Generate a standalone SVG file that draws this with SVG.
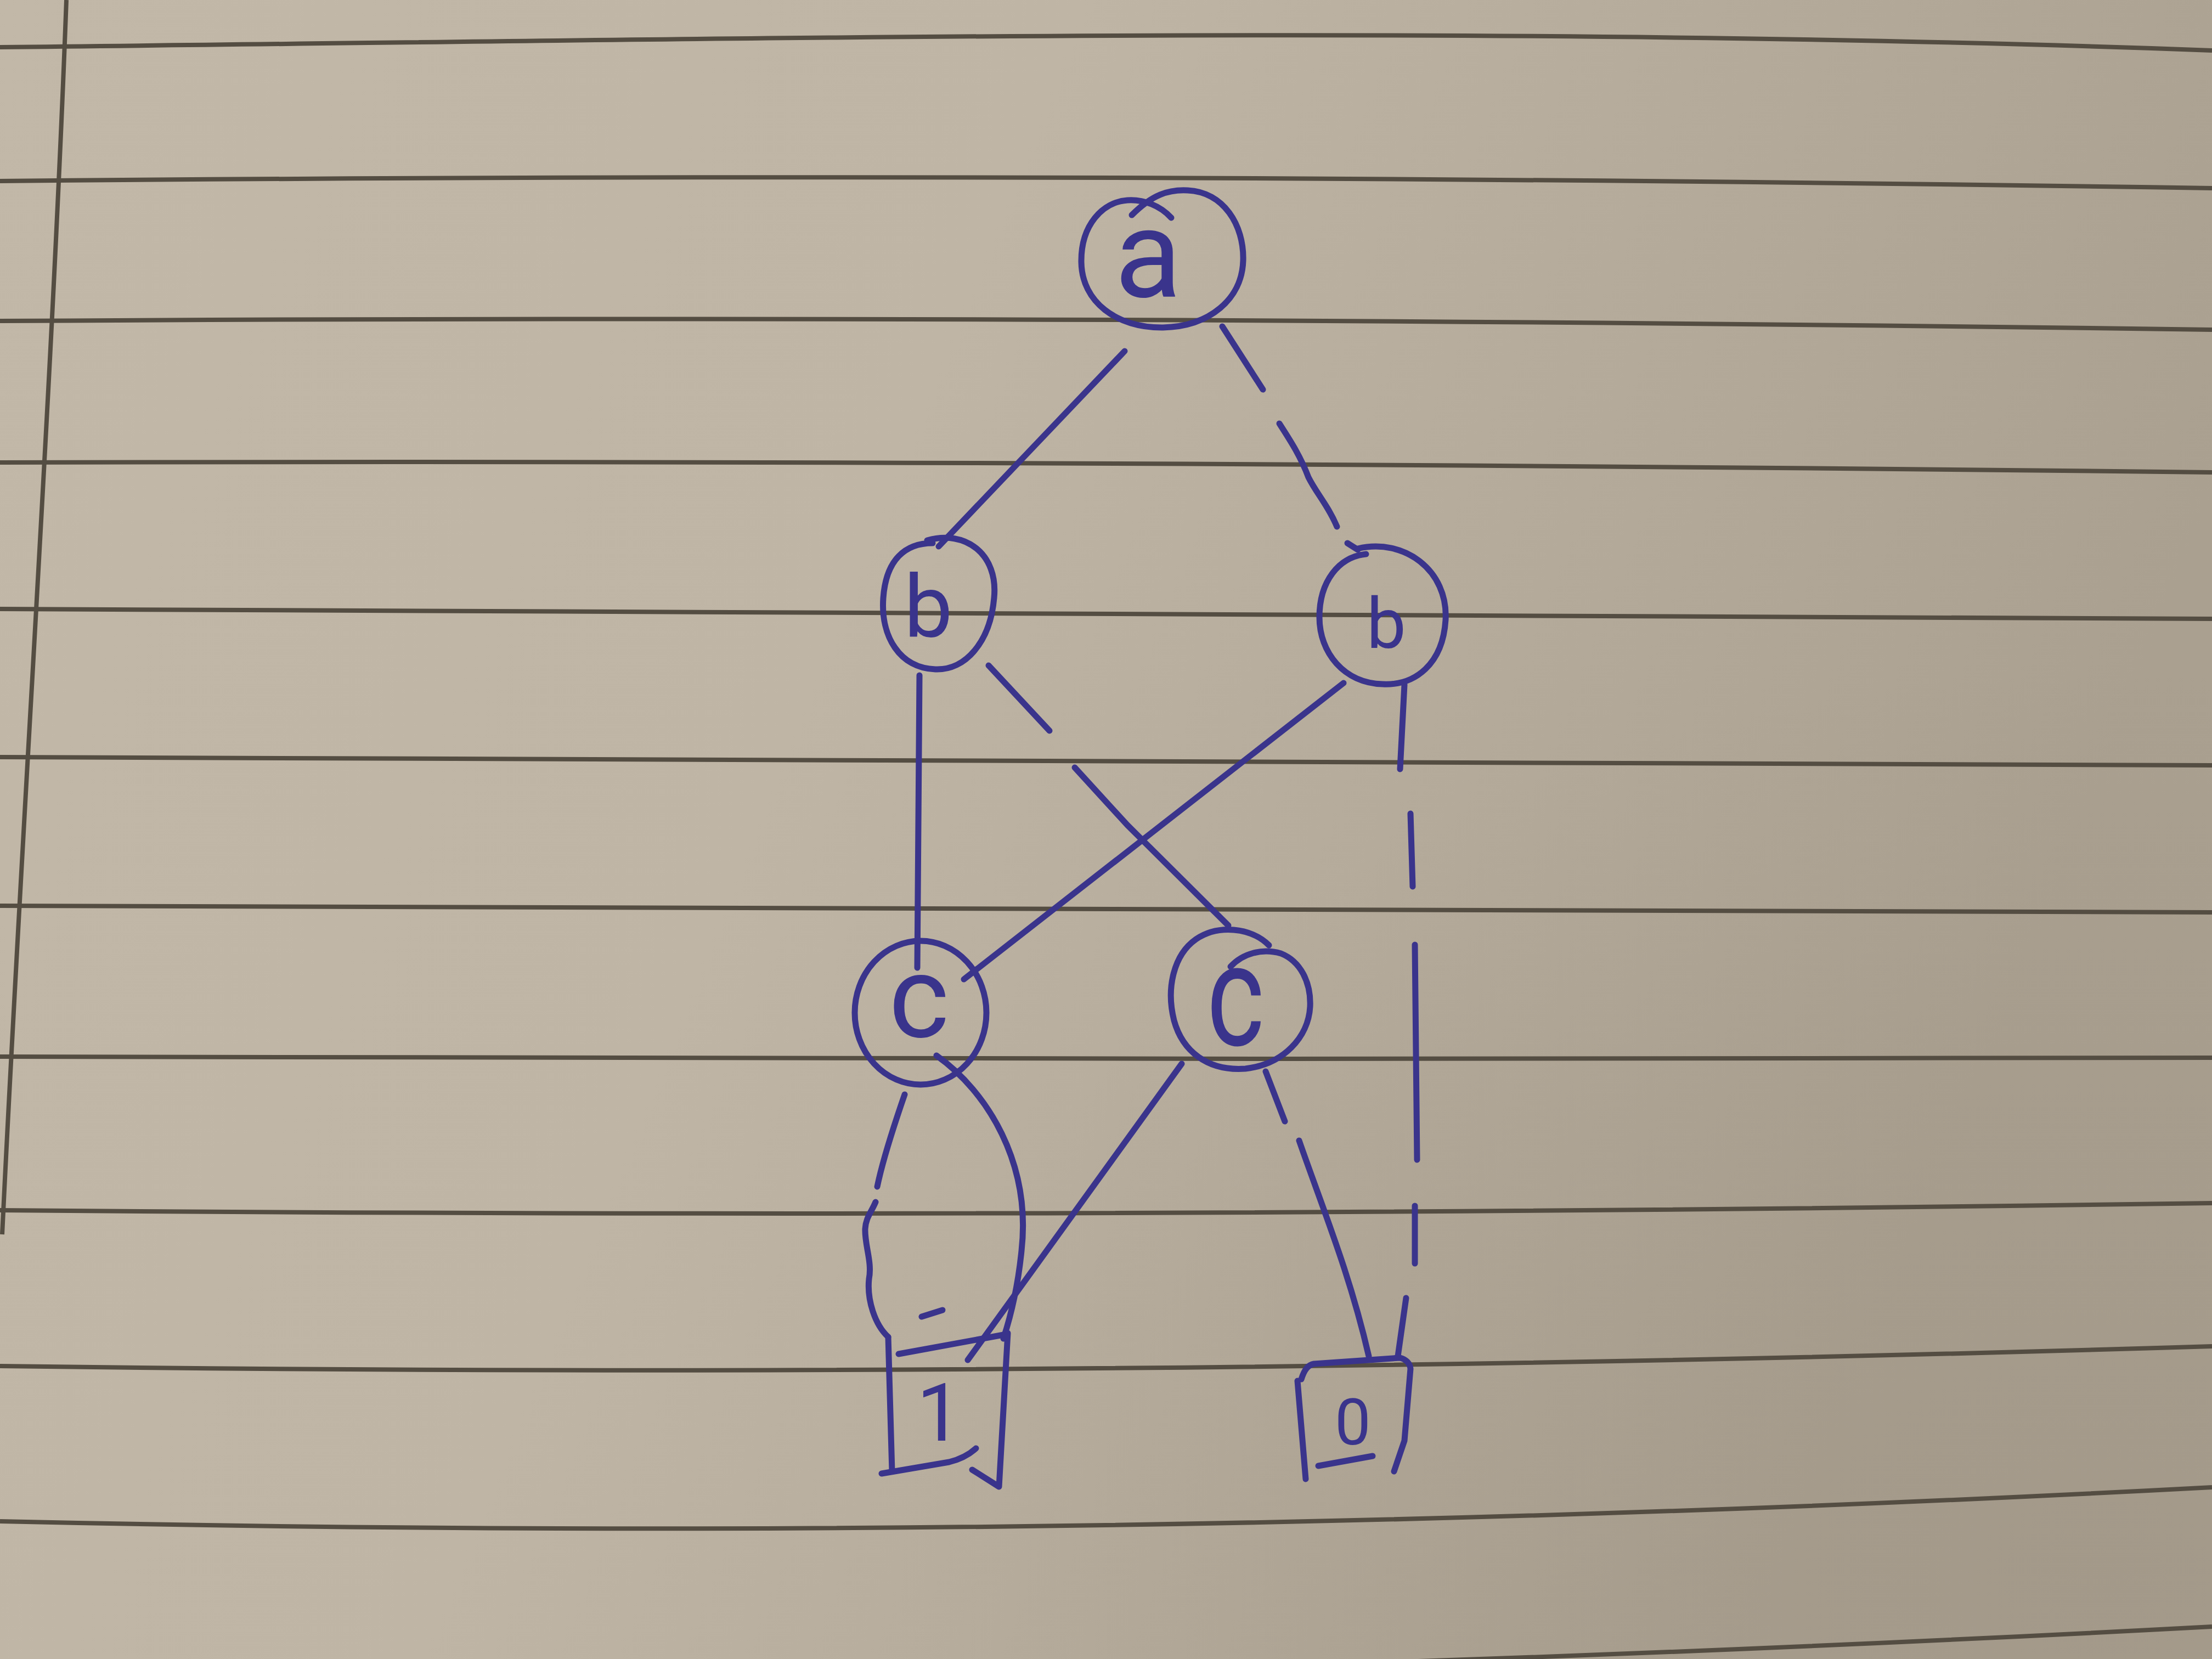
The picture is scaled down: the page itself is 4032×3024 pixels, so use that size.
<svg xmlns="http://www.w3.org/2000/svg" width="4032" height="3024" viewBox="0 0 4032 3024">
  <defs>
    <linearGradient id="paper" x1="0" y1="0" x2="1" y2="0.3">
      <stop offset="0" stop-color="#c2b8a8"/>
      <stop offset="0.45" stop-color="#bfb5a5"/>
      <stop offset="1" stop-color="#aaa090"/>
    </linearGradient>
    <radialGradient id="shade" cx="0.95" cy="0.95" r="0.55">
      <stop offset="0" stop-color="#8f8576" stop-opacity="0.25"/>
      <stop offset="1" stop-color="#8f8576" stop-opacity="0"/>
    </radialGradient>
  </defs>
  <style>
    .rule { stroke: #544d42; stroke-width: 8; fill: none; }
    .ink { stroke: #3a348c; stroke-width: 11; fill: none; stroke-linecap: round; stroke-linejoin: round; }
    .lbl { font-family: Roboto, "Liberation Sans", Arial, sans-serif; font-weight: 400; fill: #3a348c; text-anchor: middle; }
  </style>

  <!-- paper -->
  <rect x="0" y="0" width="4032" height="3024" fill="url(#paper)"/>
  <rect x="0" y="0" width="4032" height="3024" fill="url(#shade)"/>
  <g id="paper-lines">
    <path class="rule" d="M0,86 C1344,72 2688,42 4032,92"/>
    <path class="rule" d="M0,330 Q2016,311.5 4032,343"/>
    <path class="rule" d="M0,585 Q2016,573 4032,601"/>
    <path class="rule" d="M0,843 Q2016,838 4032,861"/>
    <path class="rule" d="M0,1110 Q2016,1117 4032,1128"/>
    <path class="rule" d="M0,1380 Q2016,1380.5 4032,1395"/>
    <path class="rule" d="M0,1651 Q2016,1655 4032,1663"/>
    <path class="rule" d="M0,1926 Q2016,1933 4032,1928"/>
    <path class="rule" d="M0,2206 Q2016,2222.5 4032,2193"/>
    <path class="rule" d="M0,2490 Q2016,2516 4032,2454"/>
    <path class="rule" d="M0,2773 Q2016,2818 4032,2711"/>
    <path class="rule" d="M0,3070 Q2016,3072.5 4032,2965"/>
    <path class="rule" d="M121,0 C95,700 40,1500 4,2250"/>
  </g>

  <!-- connectors -->
  <g id="connectors">
    <!-- a -> b (solid) -->
    <path class="ink" d="M2050,640 L1711,996"/>
    <!-- a -> b (dashed) -->
    <path class="ink" d="M2228,595 L2302,710"/>
    <path class="ink" d="M2332,772 C2350,800 2370,830 2385,870 C2400,900 2420,920 2437,960"/>
    <path class="ink" d="M2456,990 L2475,1002"/>
    <!-- left b -> left c (solid) -->
    <path class="ink" d="M1676,1231 L1672,1764"/>
    <!-- left b -> right c (dashed) -->
    <path class="ink" d="M1802,1213 L1913,1332"/>
    <path class="ink" d="M1959,1399 L2055,1504 L2239,1687"/>
    <!-- right b -> left c (solid) -->
    <path class="ink" d="M2449,1245 L1757,1785"/>
    <!-- right b -> 0 (dashed) -->
    <path class="ink" d="M2560,1248 L2552,1402"/>
    <path class="ink" d="M2571,1483 L2575,1616"/>
    <path class="ink" d="M2579,1722 L2583,2114"/>
    <path class="ink" d="M2579,2198 L2579,2303"/>
    <path class="ink" d="M2563,2366 L2548,2472"/>
    <!-- left c -> 1 (solid, curved) -->
    <path class="ink" d="M1707,1924 C1800,1990 1880,2120 1862,2280 C1855,2350 1842,2400 1829,2440"/>
    <!-- left c -> 1 (dashed, curved) -->
    <path class="ink" d="M1649,1995 C1630,2050 1610,2110 1599,2163"/>
    <path class="ink" d="M1596,2191 C1588,2210 1578,2220 1577,2240 C1576,2270 1590,2300 1584,2331 C1580,2370 1595,2415 1619,2437"/>
    <path class="ink" d="M1680,2400 L1718,2388"/>
    <!-- right c -> 1 (solid) -->
    <path class="ink" d="M2154,1939 L1764,2479"/>
    <!-- right c -> 0 (dashed) -->
    <path class="ink" d="M2307,1953 L2342,2044"/>
    <path class="ink" d="M2368,2079 C2410,2200 2460,2320 2495,2472"/>
  </g>

  <!-- nodes -->
  <g id="node-a">
    <path class="ink" d="M2063,392 C2100,355 2130,345 2165,347 C2230,350 2268,410 2266,475 C2264,545 2205,595 2120,597 C2035,598 1972,550 1971,478 C1970,410 2010,368 2055,365 C2085,363 2115,375 2135,397"/>
    <text class="lbl" x="2093" y="541" font-size="225">a</text>
  </g>
  <g id="node-b-left">
    <path class="ink" d="M1690,985 C1760,965 1820,1010 1812,1090 C1805,1170 1760,1222 1705,1220 C1640,1218 1605,1160 1610,1090 C1615,1020 1650,990 1700,990"/>
    <text class="lbl" x="1692" y="1160" font-size="158">b</text>
  </g>
  <g id="node-b-right">
    <path class="ink" d="M2475,1000 C2560,980 2640,1040 2635,1130 C2630,1210 2580,1250 2520,1247 C2450,1245 2405,1190 2405,1125 C2405,1060 2440,1015 2490,1010"/>
    <text class="lbl" x="2527" y="1181" font-size="128">b</text>
  </g>
  <g id="node-c-left">
    <ellipse class="ink" cx="1678" cy="1846" rx="120" ry="131"/>
    <text class="lbl" x="1675" y="1890" font-size="210">c</text>
  </g>
  <g id="node-c-right">
    <path class="ink" d="M2243,1762 C2265,1738 2300,1728 2335,1738 C2370,1752 2390,1790 2388,1835 C2385,1890 2340,1940 2270,1948 C2200,1953 2155,1915 2140,1860 C2125,1800 2140,1740 2180,1712 C2220,1685 2280,1690 2313,1723"/>
    <text class="lbl" x="2252" y="1905" font-size="261" textLength="105" lengthAdjust="spacingAndGlyphs">c</text>
  </g>
  <g id="node-1">
    <path class="ink" d="M1619,2437 L1626,2682"/>
    <path class="ink" d="M1638,2468 L1829,2433"/>
    <path class="ink" d="M1607,2686 L1730,2665 C1750,2660 1768,2650 1779,2640"/>
    <path class="ink" d="M1837,2430 L1821,2710 L1772,2679"/>
    <text class="lbl" x="1712" y="2626" font-size="147">1</text>
  </g>
  <g id="node-0">
    <path class="ink" d="M2365,2517 L2380,2696"/>
    <path class="ink" d="M2372,2514 C2378,2495 2385,2488 2395,2486 L2552,2475 C2563,2478 2570,2485 2571,2495 L2560,2626 L2541,2682"/>
    <text class="lbl" x="2466" y="2633" font-size="117">0</text>
    <path class="ink" d="M2403,2672 L2502,2654"/>
  </g>
</svg>
